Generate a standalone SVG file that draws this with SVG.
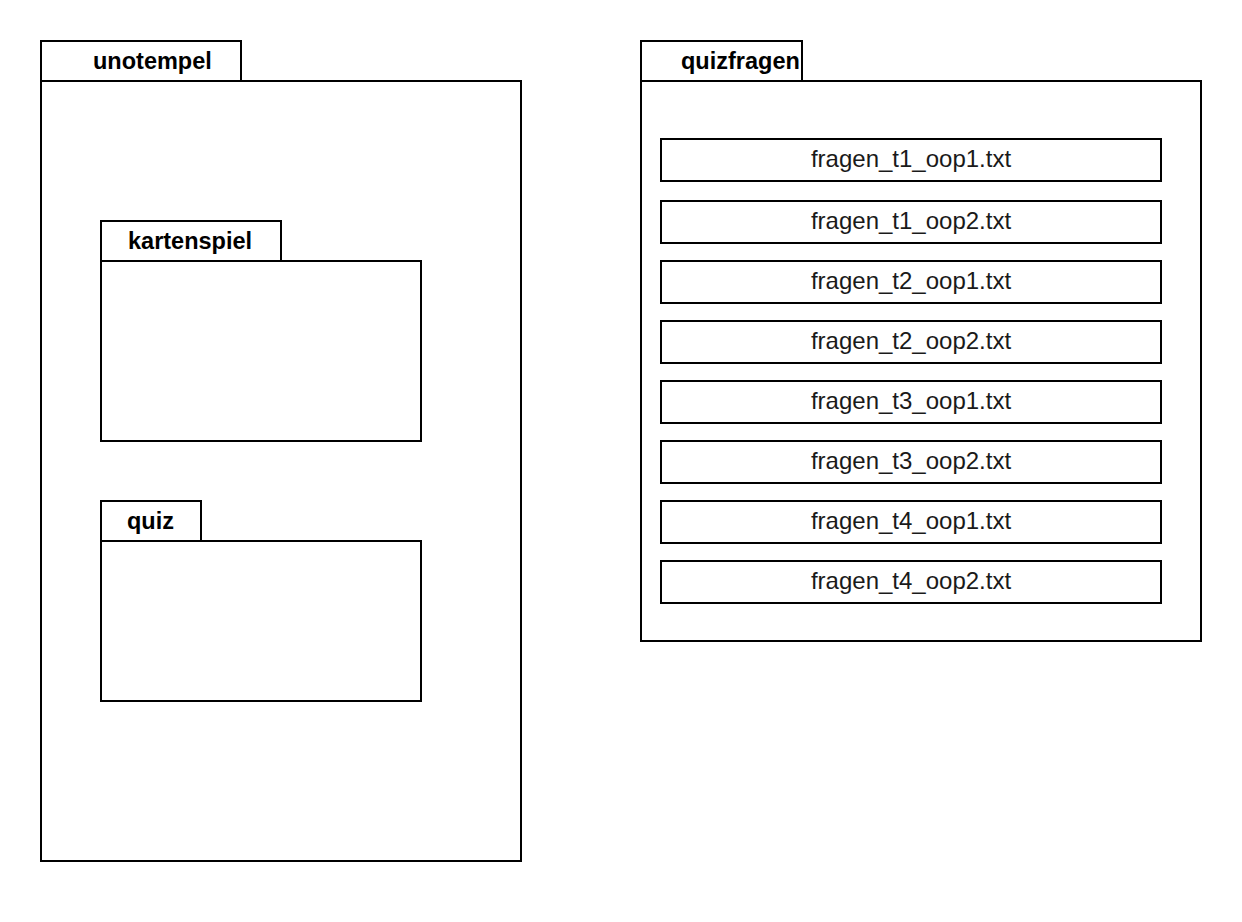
<svg xmlns="http://www.w3.org/2000/svg" width="1242" height="922" viewBox="0 0 1242 922">
<style>
.b{fill:#fff;stroke:#000;stroke-width:2}
.t{font-family:"Liberation Sans",Arial,sans-serif;font-size:23.5px;font-weight:bold;fill:#000}
.f{font-family:"Liberation Sans",Arial,sans-serif;font-size:24px;fill:#1a1a1a;text-anchor:middle}
</style>
<rect width="1242" height="922" fill="#fff"/>
<g id="unotempel">
<rect class="b" x="41" y="41" width="200" height="40"/>
<rect class="b" x="41" y="81" width="480" height="780"/>
<text class="t" x="93" y="69">unotempel</text>
</g>
<g id="kartenspiel">
<rect class="b" x="101" y="221" width="180" height="40"/>
<rect class="b" x="101" y="261" width="320" height="180"/>
<text class="t" x="128" y="249">kartenspiel</text>
</g>
<g id="quiz">
<rect class="b" x="101" y="501" width="100" height="40"/>
<rect class="b" x="101" y="541" width="320" height="160"/>
<text class="t" x="127" y="529">quiz</text>
</g>
<g id="quizfragen">
<rect class="b" x="641" y="41" width="161" height="40"/>
<rect class="b" x="641" y="81" width="560" height="560"/>
<text class="t" x="681" y="69">quizfragen</text>
</g>
<g id="f_t1_oop1"><rect class="b" x="661" y="139" width="500" height="42"/><text class="f" x="911" y="167">fragen_t1_oop1.txt</text></g>
<g id="f_t1_oop2"><rect class="b" x="661" y="201" width="500" height="42"/><text class="f" x="911" y="229">fragen_t1_oop2.txt</text></g>
<g id="f_t2_oop1"><rect class="b" x="661" y="261" width="500" height="42"/><text class="f" x="911" y="289">fragen_t2_oop1.txt</text></g>
<g id="f_t2_oop2"><rect class="b" x="661" y="321" width="500" height="42"/><text class="f" x="911" y="349">fragen_t2_oop2.txt</text></g>
<g id="f_t3_oop1"><rect class="b" x="661" y="381" width="500" height="42"/><text class="f" x="911" y="409">fragen_t3_oop1.txt</text></g>
<g id="f_t3_oop2"><rect class="b" x="661" y="441" width="500" height="42"/><text class="f" x="911" y="469">fragen_t3_oop2.txt</text></g>
<g id="f_t4_oop1"><rect class="b" x="661" y="501" width="500" height="42"/><text class="f" x="911" y="529">fragen_t4_oop1.txt</text></g>
<g id="f_t4_oop2"><rect class="b" x="661" y="561" width="500" height="42"/><text class="f" x="911" y="589">fragen_t4_oop2.txt</text></g>
<g id="connectors"/>
</svg>
